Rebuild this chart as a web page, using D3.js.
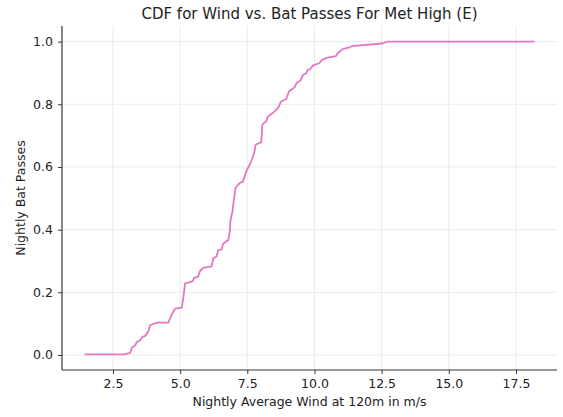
<!DOCTYPE html>
<html>
<head>
<meta charset="utf-8">
<script src="https://cdn.jsdelivr.net/npm/d3@7"></script>
<style>
  html, body { margin: 0; padding: 0; background: #fff; }
  svg { display: block; }
  text { font-family: "DejaVu Sans", sans-serif; }
</style>
</head>
<body>
<svg id="chart" width="563" height="417"></svg>
<script>
// ---- Data ----
const windValues = [1.44, 2.92, 3.14, 3.20, 3.33, 3.39, 3.51, 3.58, 3.70, 3.82, 3.88, 4.13, 4.56, 4.69, 4.81,
  5.06, 5.12, 5.18, 5.47, 5.52, 5.67, 5.74, 5.86, 6.17, 6.23, 6.36, 6.41, 6.54, 6.60, 6.79, 6.85, 6.87, 6.95,
  6.97, 7.06, 7.22, 7.34, 7.40, 7.49, 7.65, 7.77, 7.81, 8.02, 8.06, 8.21, 8.28, 8.45, 8.58, 8.64, 8.76, 8.95,
  9.05, 9.26, 9.34, 9.47, 9.57, 9.69, 9.75, 9.84, 9.94, 10.18, 10.28, 10.49, 10.80, 10.86, 11.05, 11.30, 11.42,
  11.79, 12.53, 12.72, 18.19];
const cdfValues = [0.002, 0.002, 0.007, 0.023, 0.031, 0.041, 0.047, 0.057, 0.061, 0.076, 0.095, 0.103, 0.103, 0.130, 0.148,
  0.151, 0.183, 0.228, 0.236, 0.246, 0.250, 0.268, 0.278, 0.283, 0.307, 0.315, 0.334, 0.337, 0.355, 0.366, 0.395, 0.427, 0.459,
  0.475, 0.533, 0.549, 0.554, 0.570, 0.591, 0.618, 0.650, 0.671, 0.679, 0.735, 0.747, 0.763, 0.772, 0.783, 0.788, 0.809, 0.817,
  0.841, 0.854, 0.869, 0.875, 0.894, 0.899, 0.910, 0.912, 0.924, 0.931, 0.942, 0.949, 0.954, 0.963, 0.976, 0.982, 0.986,
  0.989, 0.994, 1.000, 1.000];
const xTicks = [2.5, 5.0, 7.5, 10.0, 12.5, 15.0, 17.5];
const yTicks = [0.0, 0.2, 0.4, 0.6, 0.8, 1.0];
const titleText = "CDF for Wind vs. Bat Passes For Met High (E)";
const xLabelText = "Nightly Average Wind at 120m in m/s";
const yLabelText = "Nightly Bat Passes";

// ---- Layout ----
const W = 563, H = 417;
const margin = { left: 62, right: 6, top: 26, bottom: 47 };
const plotL = margin.left, plotR = W - margin.right, plotT = margin.top, plotB = H - margin.bottom;

const svg = d3.select("#chart");
const pts = windValues.map((x, i) => ({ x, y: cdfValues[i] }));

const [xMin, xMax] = d3.extent(windValues);
const [yMin, yMax] = d3.extent(cdfValues);
const xPad = (xMax - xMin) * 0.05, yPad = (yMax - yMin) * 0.05;
const x = d3.scaleLinear().domain([xMin - xPad, xMax + xPad]).range([plotL, plotR]);
const y = d3.scaleLinear().domain([yMin - yPad, yMax + yPad]).range([plotB, plotT]);

const gridColor = "#ebebeb";
const axisColor = "#333";
const fontSize = 12.5;

// grid
svg.append("g").selectAll("line").data(xTicks).join("line")
  .attr("x1", d => x(d)).attr("x2", d => x(d))
  .attr("y1", plotT).attr("y2", plotB)
  .attr("stroke", gridColor).attr("stroke-width", 1);
svg.append("g").selectAll("line").data(yTicks).join("line")
  .attr("y1", d => y(d)).attr("y2", d => y(d))
  .attr("x1", plotL).attr("x2", plotR)
  .attr("stroke", gridColor).attr("stroke-width", 1);

// line
const line = d3.line().x(d => x(d.x)).y(d => y(d.y));
svg.append("path").datum(pts)
  .attr("d", line)
  .attr("fill", "none")
  .attr("stroke", "#e377c2")
  .attr("stroke-width", 1.8)
  .attr("stroke-linejoin", "round");

// axes
const xAxis = d3.axisBottom(x).tickValues(xTicks).tickFormat(d3.format(".1f")).tickSizeOuter(0).tickSize(4).tickPadding(5);
const yAxis = d3.axisLeft(y).tickValues(yTicks).tickFormat(d3.format(".1f")).tickSizeOuter(0).tickSize(4).tickPadding(5);

const gx = svg.append("g").attr("transform", `translate(0,${plotB})`).call(xAxis);
const gy = svg.append("g").attr("transform", `translate(${plotL},0)`).call(yAxis);

[gx, gy].forEach(g => {
  g.select(".domain").attr("stroke", axisColor).attr("stroke-width", 1.2);
  g.selectAll(".tick line").attr("stroke", axisColor).attr("stroke-width", 1);
  g.selectAll(".tick text").attr("fill", "#222").attr("font-size", fontSize).attr("font-family", "DejaVu Sans");
});
gx.select(".domain").attr("d", `M${plotL},0H${plotR}`);
gy.select(".domain").attr("d", `M0,${plotB}V${plotT}`);

// title
svg.append("text")
  .attr("x", (plotL + plotR) / 2).attr("y", 19)
  .attr("text-anchor", "middle")
  .attr("font-size", 15).attr("fill", "#222")
  .text(titleText);

// x label
svg.append("text")
  .attr("x", (plotL + plotR) / 2).attr("y", 406)
  .attr("text-anchor", "middle")
  .attr("font-size", fontSize).attr("fill", "#222")
  .text(xLabelText);

// y label
svg.append("text")
  .attr("transform", `translate(24.5,${(plotT + plotB) / 2}) rotate(-90)`)
  .attr("text-anchor", "middle")
  .attr("font-size", fontSize).attr("fill", "#222")
  .text(yLabelText);
</script>
</body>
</html>
